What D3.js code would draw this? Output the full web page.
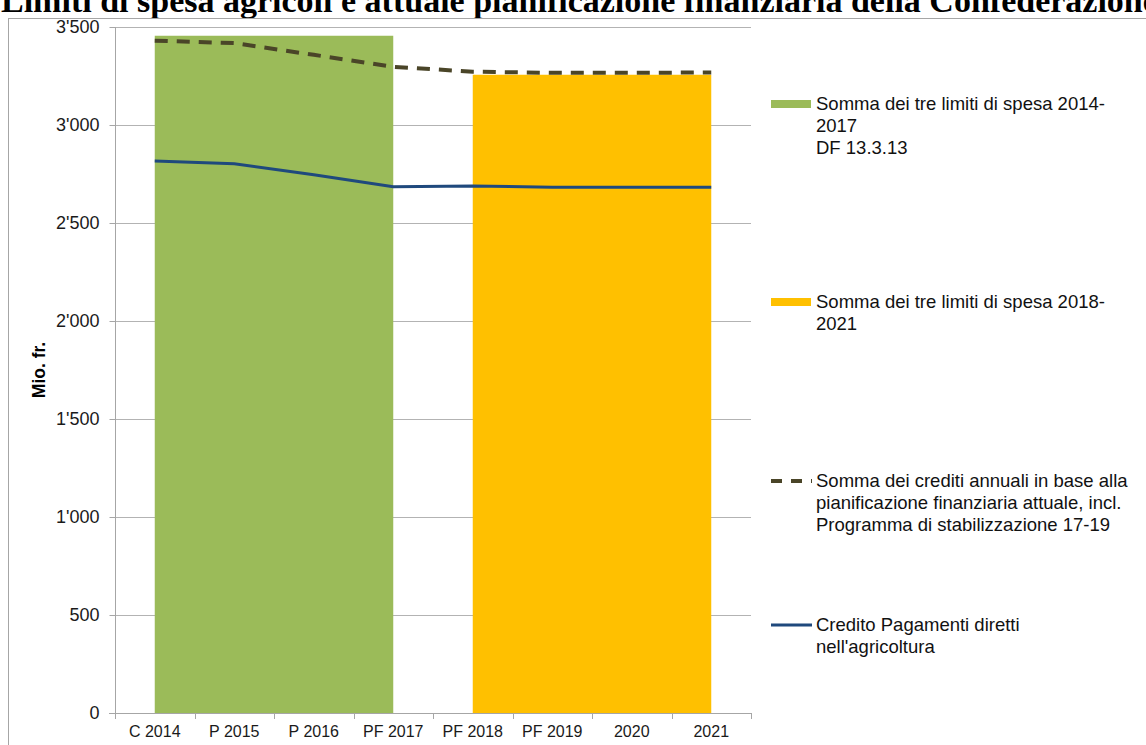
<!DOCTYPE html>
<html>
<head>
<meta charset="utf-8">
<script src="https://cdn.jsdelivr.net/npm/d3@7"></script>
<style>
  body { margin: 0; background: #fff; }
  svg { display: block; }
</style>
</head>
<body>
<div id="container"></div>
<script>
  const categories = ['C 2014', 'P 2015', 'P 2016', 'PF 2017', 'PF 2018', 'PF 2019', '2020', '2021'];

  // area blocks (null = not drawn)
  const limits1417 = [3455, 3455, 3455, 3455, null, null, null, null];
  const limits1821 = [null, null, null, null, 3256, 3256, 3256, 3256];
  // lines
  const creditsPlan = [3430, 3418, 3358, 3297, 3272, 3266, 3266, 3268];
  const directPayments = [2816, 2802, 2746, 2685, 2689, 2683, 2683, 2683];

  const yTicks = [0, 500, 1000, 1500, 2000, 2500, 3000, 3500];
  const yTickLabels = ['0', '500', "1'000", "1'500", "2'000", "2'500", "3'000", "3'500"];

  const width = 1146;
  const height = 745;
  const plot = { left: 115, right: 751, top: 27, bottom: 713 };
  const sans = 'Liberation Sans, Arial, sans-serif';

  const svg = d3.create('svg')
    .attr('width', width)
    .attr('height', height)
    .style('font-family', sans);

  // title (clipped by the top edge as in the source)
  svg.append('text')
    .attr('x', 1)
    .attr('y', 12)
    .attr('font-family', 'Liberation Serif, Times New Roman, serif')
    .attr('font-weight', 'bold')
    .attr('font-size', 34)
    .attr('fill', '#000')
    .text('Limiti di spesa agricoli e attuale pianificazione finanziaria della Confederazione');

  // outer frame
  svg.append('rect')
    .attr('x', 8.5).attr('y', 18.5)
    .attr('width', 1160).attr('height', 740)
    .attr('fill', 'none')
    .attr('stroke', '#a6a6a6');

  const x = d3.scaleBand()
    .domain(categories)
    .range([plot.left, plot.right]);

  const y = d3.scaleLinear()
    .domain([0, 3500])
    .range([plot.bottom, plot.top]);

  const cx = c => x(c) + x.bandwidth() / 2;

  // gridlines
  svg.append('g')
    .selectAll('line')
    .data(yTicks.slice(1))
    .join('line')
    .attr('x1', plot.left).attr('x2', plot.right)
    .attr('y1', d => Math.round(y(d)) + 0.5)
    .attr('y2', d => Math.round(y(d)) + 0.5)
    .attr('stroke', '#b3b3b3');

  // area blocks
  const area = d3.area()
    .defined(d => d != null)
    .x((d, i) => cx(categories[i]))
    .y0(y(0))
    .y1(d => y(d));

  svg.append('path')
    .attr('d', area(limits1417))
    .attr('fill', '#9bbb59');

  svg.append('path')
    .attr('d', area(limits1821))
    .attr('fill', '#ffc000');

  // y axis
  const yAxis = svg.append('g')
    .attr('transform', `translate(${plot.left + 0.5},0)`)
    .call(d3.axisLeft(y).tickValues(yTicks).tickFormat((d, i) => yTickLabels[i]).tickSize(6).tickPadding(10));
  yAxis.select('.domain').attr('stroke', '#a6a6a6').attr('d', `M0,${y(0)}V${y(3500)}`);
  yAxis.selectAll('.tick line').attr('stroke', '#a6a6a6');
  yAxis.selectAll('text').attr('font-size', 18).attr('fill', '#1a1a1a').attr('font-family', sans);

  // x axis
  const xAxis = svg.append('g')
    .attr('transform', `translate(0,${plot.bottom + 0.5})`)
    .call(d3.axisBottom(x).tickSize(0).tickPadding(12));
  xAxis.select('.domain').attr('stroke', '#a6a6a6').attr('d', `M${plot.left - 6},0H${plot.right}`);
  xAxis.selectAll('text').attr('font-size', 16).attr('fill', '#1a1a1a').attr('font-family', sans);

  // category separator ticks
  svg.append('g')
    .selectAll('line')
    .data(categories)
    .join('line')
    .attr('x1', d => Math.round(x(d)) + 0.5)
    .attr('x2', d => Math.round(x(d)) + 0.5)
    .attr('y1', plot.bottom)
    .attr('y2', plot.bottom + 6)
    .attr('stroke', '#a6a6a6');
  svg.append('line')
    .attr('x1', plot.right + 0.5).attr('x2', plot.right + 0.5)
    .attr('y1', plot.bottom).attr('y2', plot.bottom + 6)
    .attr('stroke', '#a6a6a6');

  // lines
  const line = d3.line()
    .x((d, i) => cx(categories[i]))
    .y(d => y(d));

  svg.append('path')
    .attr('d', line(creditsPlan))
    .attr('fill', 'none')
    .attr('stroke', '#4a4528')
    .attr('stroke-width', 4)
    .attr('stroke-dasharray', '13,9');

  svg.append('path')
    .attr('d', line(directPayments))
    .attr('fill', 'none')
    .attr('stroke', '#1f497d')
    .attr('stroke-width', 3);

  // y axis title
  svg.append('text')
    .attr('transform', 'translate(45,370) rotate(-90)')
    .attr('text-anchor', 'middle')
    .attr('font-size', 17.5)
    .attr('font-weight', 'bold')
    .text('Mio. fr.');

  // legend
  const legend = [
    { type: 'rect', color: '#9bbb59', y: 104, lines: ['Somma dei tre limiti di spesa 2014-', '2017', 'DF 13.3.13'] },
    { type: 'rect', color: '#ffc000', y: 302, lines: ['Somma dei tre limiti di spesa 2018-', '2021'] },
    { type: 'dash', color: '#4a4528', y: 481, lines: ['Somma dei crediti annuali in base alla', 'pianificazione finanziaria attuale, incl.', 'Programma di stabilizzazione 17-19'] },
    { type: 'line', color: '#1f497d', y: 625, lines: ['Credito Pagamenti diretti', "nell'agricoltura"] }
  ];

  const lg = svg.append('g');
  legend.forEach(item => {
    if (item.type === 'rect') {
      lg.append('rect')
        .attr('x', 771).attr('y', item.y - 4)
        .attr('width', 40).attr('height', 8)
        .attr('fill', item.color);
    } else {
      lg.append('line')
        .attr('x1', 771).attr('x2', 812)
        .attr('y1', item.y).attr('y2', item.y)
        .attr('stroke', item.color)
        .attr('stroke-width', item.type === 'dash' ? 4 : 3)
        .attr('stroke-dasharray', item.type === 'dash' ? '11,9' : null);
    }
    lg.append('text')
      .attr('x', 816)
      .attr('y', item.y + 6)
      .attr('font-size', 18.5)
      .attr('fill', '#111')
      .selectAll('tspan')
      .data(item.lines)
      .join('tspan')
      .attr('x', 816)
      .attr('dy', (d, i) => i === 0 ? 0 : 22)
      .text(d => d);
  });

  document.getElementById('container').appendChild(svg.node());
</script>
</body>
</html>
